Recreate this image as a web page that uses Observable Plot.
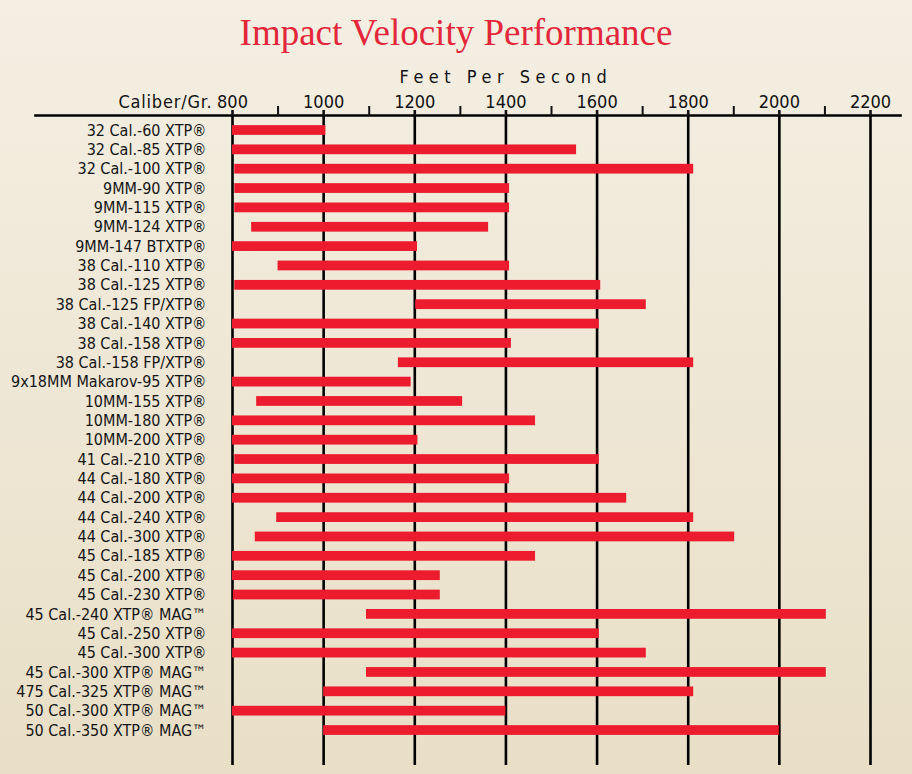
<!DOCTYPE html>
<html><head><meta charset="utf-8">
<script src="https://cdn.jsdelivr.net/npm/d3@7"></script>
<script src="https://cdn.jsdelivr.net/npm/@observablehq/plot@0.6"></script>
<style>
html,body{margin:0;padding:0;}
body{width:912px;height:774px;background:linear-gradient(#f4efe3,#e9dfc7);overflow:hidden;}
#title{height:62px;text-align:center;font-family:"Liberation Serif",serif;font-size:37px;color:#e3263a;line-height:66px;}
#chart svg{display:block;}
</style></head><body>
<div id="title">Impact Velocity Performance</div>
<div id="chart"></div>
<script>
const calibers = [
  "32 Cal.-60 XTP®", "32 Cal.-85 XTP®", "32 Cal.-100 XTP®",
  "9MM-90 XTP®", "9MM-115 XTP®", "9MM-124 XTP®", "9MM-147 BTXTP®",
  "38 Cal.-110 XTP®", "38 Cal.-125 XTP®", "38 Cal.-125 FP/XTP®", "38 Cal.-140 XTP®",
  "38 Cal.-158 XTP®", "38 Cal.-158 FP/XTP®", "9x18MM Makarov-95 XTP®",
  "10MM-155 XTP®", "10MM-180 XTP®", "10MM-200 XTP®", "41 Cal.-210 XTP®",
  "44 Cal.-180 XTP®", "44 Cal.-200 XTP®", "44 Cal.-240 XTP®", "44 Cal.-300 XTP®",
  "45 Cal.-185 XTP®", "45 Cal.-200 XTP®", "45 Cal.-230 XTP®", "45 Cal.-240 XTP® MAG™",
  "45 Cal.-250 XTP®", "45 Cal.-300 XTP®", "45 Cal.-300 XTP® MAG™",
  "475 Cal.-325 XTP® MAG™", "50 Cal.-300 XTP® MAG™", "50 Cal.-350 XTP® MAG™"
];
const lowFps = [
  800, 800, 805,
  805, 805, 842, 800,
  900, 805, 1202, 800,
  800, 1164, 800,
  853, 800, 800, 805,
  800, 800, 897, 850,
  800, 800, 802, 1094,
  800, 800, 1094,
  1000, 800, 1000
];
const highFps = [
  1005, 1555, 1812,
  1408, 1408, 1362, 1206,
  1408, 1608, 1708, 1605,
  1412, 1812, 1192,
  1305, 1465, 1207, 1605,
  1408, 1665, 1812, 1902,
  1465, 1256, 1256, 2103,
  1605, 1708, 2103,
  1812, 1400, 2000
];
const majorTicks = [800, 1000, 1200, 1400, 1600, 1800, 2000, 2200];
const minorTicks = [900, 1100, 1300, 1500, 1700, 1900, 2100];
const axisTitle = "Feet Per Second";
const rowHeader = "Caliber/Gr.";

const rows = calibers.map((c, i) => ({caliber: c, low: lowFps[i], high: highFps[i]}));

const chart = Plot.plot({
  width: 912, height: 712,
  marginTop: 53, marginBottom: 9, marginLeft: 35, marginRight: 12,
  x: {domain: [800, 2200], range: [232, 870], axis: null},
  y: {domain: calibers, range: [58.3, 677.7], padding: 0, round: false, axis: null},
  style: {background: "transparent", fontFamily: "'Liberation Sans Narrow','DejaVu Sans Condensed',sans-serif", color: "#111"},
  marks: [
    Plot.ruleX(majorTicks, {stroke: "#000", strokeWidth: 2.6}),
    Plot.barX(rows, {y: "caliber", x1: "low", x2: "high", fill: "#ec1c2e", insetTop: 4.8, insetBottom: 4.8}),
    Plot.frame({anchor: "top", stroke: "#000", strokeWidth: 2.6}),
    Plot.axisX(minorTicks, {anchor: "top", tickSize: 10, strokeWidth: 2, tickFormat: () => "", label: null}),
    Plot.axisX(majorTicks, {anchor: "top", tickSize: 6, strokeWidth: 2.6, tickPadding: 2, fontSize: 18, label: null, fill: "#111", tickFormat: d => String(d)}),
    Plot.text(rows, {x: () => 800, y: "caliber", text: "caliber", textAnchor: "end", dx: -26, fontSize: 16, fill: "#151515"}),
    Plot.text([axisTitle], {x: () => 1400, frameAnchor: "top", lineAnchor: "bottom", dy: -33, fontSize: 18, fill: "#111"}),
    Plot.text([rowHeader], {x: () => 800, frameAnchor: "top", lineAnchor: "bottom", dy: -8, dx: -20, textAnchor: "end", fontSize: 18, fill: "#111"})
  ]
});
document.getElementById("chart").append(chart);
d3.select(chart).selectAll("text").filter(function(){ return this.textContent === axisTitle; }).attr("letter-spacing", "5.5px");
d3.select(chart).selectAll("text").filter(function(){ return this.textContent === rowHeader; }).attr("letter-spacing", "0.8px");
</script>
</body></html>
